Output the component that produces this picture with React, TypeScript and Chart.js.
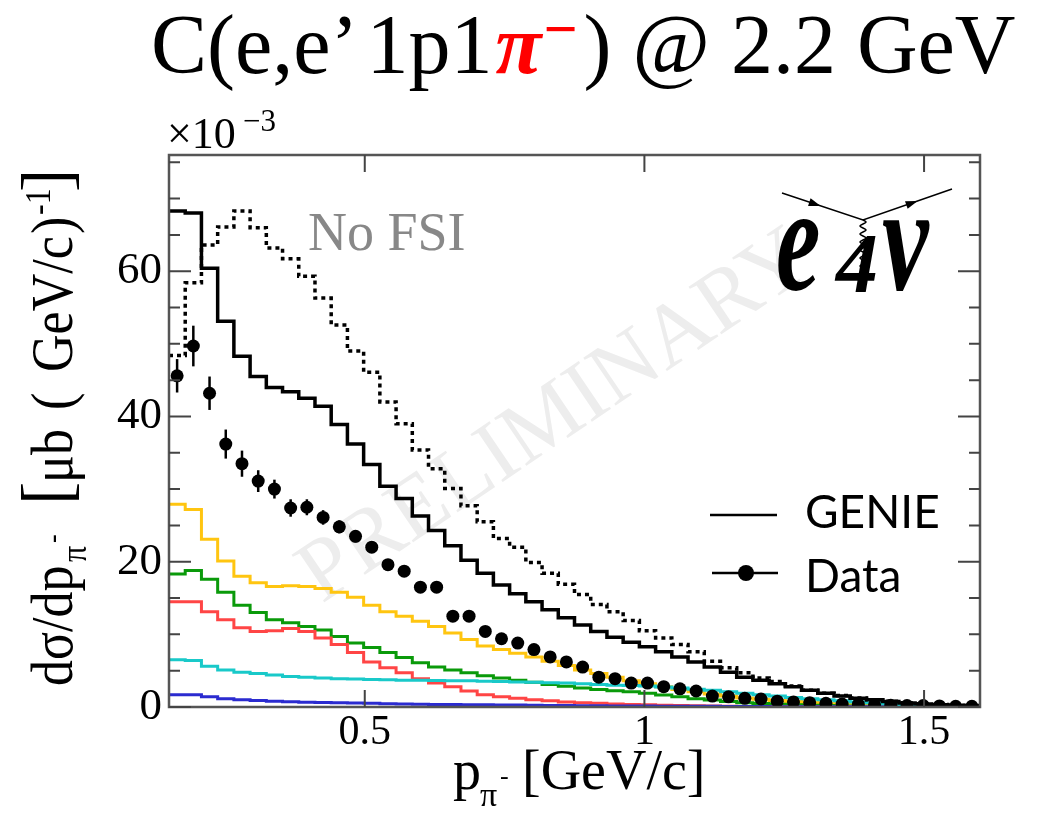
import React, { useEffect, useRef } from "react";
import { Chart, registerables } from "chart.js";
Chart.register(...registerables);

// ---- axis / categories ----
const binEdges = [
  0.150, 0.179, 0.208, 0.237, 0.266, 0.295, 0.324, 0.353, 0.382, 0.411,
  0.440, 0.469, 0.498, 0.527, 0.556, 0.585, 0.614, 0.643, 0.672, 0.701,
  0.730, 0.759, 0.788, 0.817, 0.846, 0.875, 0.904, 0.933, 0.962, 0.991,
  1.020, 1.049, 1.078, 1.107, 1.136, 1.165, 1.194, 1.223, 1.252, 1.281,
  1.310, 1.339, 1.368, 1.397, 1.426, 1.455, 1.484, 1.513, 1.542, 1.571,
  1.600,
];
const xTickValues = [0.5, 1, 1.5];
const xTickLabels = ["0.5", "1", "1.5"];
const yTickValues = [0, 5, 10, 15, 20, 25, 30, 35, 40, 45, 50, 55, 60, 65, 70, 75];
const yLabelValues = [0, 20, 40, 60];

// ---- series (units of 1e-3 ub/(GeV/c)) ----
const genieTotal = [
  68.3, 68.0, 60.4, 53.1, 48.3, 45.5, 44.0, 43.4, 42.5, 41.4,
  38.9, 36.2, 33.4, 30.4, 28.7, 26.3, 24.3, 22.2, 20.2, 18.4,
  16.8, 15.6, 14.5, 13.4, 12.3, 11.3, 10.4, 9.6, 8.9, 8.3,
  7.6, 6.9, 6.2, 5.5, 4.8, 4.1, 3.7, 3.2, 2.8, 2.3,
  1.9, 1.5, 1.2, 1.0, 0.75, 0.55, 0.42, 0.32, 0.22, 0.15,
];
const genieNoFsi = [
  48.4, 58.4, 63.6, 66.1, 68.3, 66.0, 63.2, 61.7, 59.3, 56.3,
  52.6, 49.0, 46.1, 42.0, 39.0, 35.4, 32.8, 30.1, 27.7, 25.5,
  23.2, 22.0, 19.9, 18.4, 16.9, 15.5, 14.1, 13.1, 11.9, 10.5,
  9.5, 8.6, 7.6, 6.3, 5.4, 4.7, 4.0, 3.5, 2.9, 2.3,
  1.9, 1.6, 1.25, 1.0, 0.8, 0.6, 0.45, 0.35, 0.25, 0.2,
];
const yellowComp = [
  27.9, 27.2, 23.1, 20.1, 18.0, 17.1, 16.6, 16.7, 16.6, 16.3,
  15.8, 15.1, 14.0, 13.1, 12.5, 11.8, 11.1, 10.2, 9.3, 8.4,
  7.9, 7.4, 6.9, 6.3, 5.7, 5.1, 4.6, 4.1, 3.6, 3.2,
  2.8, 2.4, 2.1, 1.8, 1.5, 1.25, 1.05, 0.9, 0.75, 0.62,
  0.5, 0.42, 0.35, 0.28, 0.22, 0.18, 0.14, 0.11, 0.08, 0.06,
];
const greenComp = [
  18.3, 18.8, 17.6, 15.8, 14.0, 13.0, 12.0, 11.6, 11.1, 10.6,
  9.7, 8.8, 8.2, 7.5, 6.8, 6.1, 5.5, 5.1, 4.7, 4.3,
  4.0, 3.7, 3.4, 3.1, 2.85, 2.6, 2.4, 2.25, 2.1, 1.9,
  1.65, 1.4, 1.15, 0.95, 0.75, 0.6, 0.48, 0.38, 0.3, 0.24,
  0.19, 0.15, 0.12, 0.09, 0.07, 0.05, 0.04, 0.03, 0.02, 0.02,
];
const redComp = [
  14.5, 14.5, 13.1, 12.0, 10.9, 10.4, 10.5, 10.8, 10.4, 9.5,
  8.6, 7.5, 6.2, 5.4, 4.7, 3.9, 3.3, 2.8, 2.2, 1.7,
  1.4, 1.2, 1.0, 0.85, 0.7, 0.6, 0.5, 0.42, 0.36, 0.3,
  0.25, 0.2, 0.16, 0.13, 0.1, 0.08, 0.07, 0.06, 0.05, 0.04,
  0.04, 0.03, 0.03, 0.02, 0.02, 0.02, 0.01, 0.01, 0.01, 0.01,
];
const cyanComp = [
  6.5, 6.4, 5.6, 5.1, 4.8, 4.6, 4.4, 4.2, 4.1, 4.0,
  3.9, 3.85, 3.8, 3.75, 3.7, 3.7, 3.65, 3.6, 3.6, 3.55,
  3.5, 3.45, 3.4, 3.35, 3.3, 3.2, 3.1, 3.0, 2.95, 2.9,
  2.75, 2.6, 2.45, 2.3, 2.1, 1.9, 1.7, 1.5, 1.3, 1.15,
  1.0, 0.85, 0.7, 0.58, 0.46, 0.36, 0.28, 0.21, 0.15, 0.1,
];
const blueComp = [
  1.7, 1.7, 1.4, 1.15, 1.0, 0.9, 0.78, 0.72, 0.66, 0.62,
  0.58, 0.54, 0.5, 0.46, 0.42, 0.39, 0.36, 0.34, 0.32, 0.3,
  0.28, 0.26, 0.24, 0.22, 0.2, 0.18, 0.16, 0.15, 0.14, 0.13,
  0.12, 0.11, 0.1, 0.09, 0.08, 0.07, 0.06, 0.05, 0.05, 0.04,
  0.04, 0.03, 0.03, 0.02, 0.02, 0.02, 0.01, 0.01, 0.01, 0.01,
];
const dataValues = [
  45.6, 49.7, 43.2, 36.2, 33.5, 31.1, 30.0, 27.4, 27.5, 26.1,
  24.8, 23.5, 22.0, 19.6, 18.7, 16.5, 16.5, 12.5, 12.5, 10.4,
  9.4, 8.8, 7.9, 6.9, 6.2, 5.5, 4.1, 3.9, 3.3, 3.3,
  2.8, 2.5, 2.2, 1.5, 1.4, 1.2, 1.1, 0.8, 0.7, 0.6,
  0.5, 0.4, 0.35, 0.3, 0.25, 0.2, 0.2, 0.15, 0.1, 0.1,
];
const dataErrors = [
  2.3, 2.8, 2.3, 2.0, 1.8, 1.5, 1.3, 1.2, 1.1, 1.0,
  0.9, 0.85, 0.8, 0.75, 0.7, 0.65, 0.6, 0.55, 0.5, 0.45,
  0.4, 0.4, 0.35, 0.35, 0.3, 0.3, 0.25, 0.25, 0.22, 0.2,
  0.2, 0.18, 0.16, 0.14, 0.13, 0.12, 0.11, 0.1, 0.09, 0.08,
  0.08, 0.07, 0.07, 0.06, 0.06, 0.05, 0.05, 0.05, 0.04, 0.04,
];

const SERIF = "'Liberation Serif', 'Times New Roman', serif";
const SANS = "Lato, 'Open Sans', sans-serif";

function stepPoints(values: number[]) {
  const pts = values.map((v, i) => ({ x: binEdges[i], y: v }));
  pts.push({ x: binEdges[values.length], y: values[values.length - 1] });
  return pts;
}
function centerPoints(values: number[]) {
  return values.map((v, i) => ({ x: (binEdges[i] + binEdges[i + 1]) / 2, y: v }));
}

function drawText(
  ctx: CanvasRenderingContext2D, s: string, x: number, y: number, font: string,
  color = "#000", align: CanvasTextAlign = "left", sx = 1, sy = 1
) {
  ctx.save();
  ctx.translate(x, y);
  ctx.scale(sx, sy);
  ctx.font = font;
  ctx.fillStyle = color;
  ctx.textAlign = align;
  ctx.textBaseline = "alphabetic";
  ctx.fillText(s, 0, 0);
  ctx.restore();
}
function textWidth(ctx: CanvasRenderingContext2D, s: string, font: string) {
  ctx.save();
  ctx.font = font;
  const w = ctx.measureText(s).width;
  ctx.restore();
  return w;
}

const decorPlugin = {
  id: "decor",
  beforeDatasetsDraw(chart: any) {
    const ctx: CanvasRenderingContext2D = chart.ctx;
    ctx.save();
    ctx.translate(556, 418);
    ctx.rotate(-34 * Math.PI / 180);
    ctx.font = `88px ${SERIF}`;
    ctx.fillStyle = "#ededed";
    ctx.textAlign = "center";
    ctx.textBaseline = "middle";
    ctx.fillText("PRELIMINARY", 0, 0);
    ctx.restore();
  },
  afterDatasetsDraw(chart: any) {
    const ctx: CanvasRenderingContext2D = chart.ctx;
    const xs = chart.scales.x, ys = chart.scales.y;
    const a = chart.chartArea;
    // error bars
    ctx.save();
    ctx.strokeStyle = "#000";
    ctx.lineWidth = 2.5;
    dataValues.forEach((v, i) => {
      const cx = xs.getPixelForValue((binEdges[i] + binEdges[i + 1]) / 2);
      const y1 = ys.getPixelForValue(v - dataErrors[i]);
      const y2 = ys.getPixelForValue(v + dataErrors[i]);
      ctx.beginPath();
      ctx.moveTo(cx, y1);
      ctx.lineTo(cx, y2);
      ctx.stroke();
    });
    ctx.restore();
    // frame + inward ticks
    ctx.save();
    ctx.strokeStyle = "#555";
    ctx.lineWidth = 2.5;
    ctx.strokeRect(a.left, a.top, a.right - a.left, a.bottom - a.top);
    ctx.lineWidth = 2;
    ctx.strokeStyle = "#444";
    yTickValues.forEach((v) => {
      const py = ys.getPixelForValue(v);
      const len = yLabelValues.includes(v) ? 22 : 11;
      ctx.beginPath();
      ctx.moveTo(a.left, py); ctx.lineTo(a.left + len, py);
      ctx.moveTo(a.right, py); ctx.lineTo(a.right - len, py);
      ctx.stroke();
    });
    xTickValues.forEach((v) => {
      const px = xs.getPixelForValue(v);
      ctx.beginPath();
      ctx.moveTo(px, a.bottom); ctx.lineTo(px, a.bottom - 17);
      ctx.moveTo(px, a.top); ctx.lineTo(px, a.top + 17);
      ctx.stroke();
    });
    ctx.restore();
  },
  afterDraw(chart: any) {
    const ctx: CanvasRenderingContext2D = chart.ctx;
    // ---- title ----
    let x = 151;
    const base = 73;
    const tf = `84px ${SERIF}`;
    drawText(ctx, "C(e,e\u2019", x, base, tf);
    x += textWidth(ctx, "C(e,e\u2019", tf) + 8;
    drawText(ctx, "1p1", x, base, tf);
    x += textWidth(ctx, "1p1", tf) + 3;
    const pf = `italic bold 84px ${SERIF}`;
    drawText(ctx, "\u03C0", x, base, pf, "#ff0000");
    x += textWidth(ctx, "\u03C0", pf) + 2;
    const mf = `bold 60px ${SERIF}`;
    drawText(ctx, "\u2212", x, base - 24, mf, "#ff0000");
    x += textWidth(ctx, "\u2212", mf) + 6;
    drawText(ctx, ") @ 2.2 GeV", x, base, tf);

    // ---- x10^-3 ----
    drawText(ctx, "\u00D710", 167, 148, `44px ${SERIF}`);
    drawText(ctx, "\u22123", 243, 131, `31px ${SERIF}`);

    // ---- y axis title (rotated) ----
    ctx.save();
    ctx.translate(72, 686);
    ctx.rotate(-Math.PI / 2);
    const yf = `52px ${SERIF}`;
    const S = 1.15;
    drawText(ctx, "d\u03C3/dp", 0, 0, yf, "#000", "left", 1, S);
    drawText(ctx, "\u03C0", 124, 14, `32px ${SERIF}`, "#000", "left", 1, S);
    drawText(ctx, "-", 143, -10, `26px ${SERIF}`, "#000", "left", 1, S);
    drawText(ctx, "[", 181, -2, `70px ${SERIF}`);
    drawText(ctx, "\u03BCb", 203, 0, yf, "#000", "left", 1, S);
    drawText(ctx, "(", 276, 0, yf, "#000", "left", 1, S);
    drawText(ctx, "GeV/c", 314, 0, yf, "#000", "left", 1, S);
    drawText(ctx, ")", 452, 0, yf, "#000", "left", 1, S);
    drawText(ctx, "-1", 471, -22, `32px ${SERIF}`, "#000", "left", 1, S);
    drawText(ctx, "]", 494, -2, `70px ${SERIF}`);
    ctx.restore();

    // ---- x axis title ----
    drawText(ctx, "p", 453, 789, `56px ${SERIF}`);
    drawText(ctx, "\u03C0", 480, 806, `34px ${SERIF}`);
    drawText(ctx, "-", 500, 784, `26px ${SERIF}`);
    drawText(ctx, "[GeV/c]", 522, 789, `56px ${SERIF}`);

    // ---- No FSI ----
    drawText(ctx, "No FSI", 308, 250, `54px ${SERIF}`, "#888");

    // ---- legend ----
    ctx.save();
    ctx.strokeStyle = "#000";
    ctx.lineWidth = 2.5;
    ctx.beginPath();
    ctx.moveTo(710, 515); ctx.lineTo(777, 515);
    ctx.moveTo(712, 573); ctx.lineTo(778, 573);
    ctx.stroke();
    ctx.beginPath();
    ctx.arc(746, 573, 8, 0, Math.PI * 2);
    ctx.fillStyle = "#000";
    ctx.fill();
    ctx.restore();
    drawText(ctx, "GENIE", 805, 528, `46px ${SANS}`);
    drawText(ctx, "Data", 805, 592, `46px ${SANS}`);

    // ---- e4nu logo ----
    ctx.save();
    ctx.strokeStyle = "#000";
    ctx.fillStyle = "#000";
    ctx.lineWidth = 1.5;
    ctx.beginPath();
    ctx.moveTo(782, 193); ctx.lineTo(863, 220); ctx.lineTo(952, 189);
    ctx.stroke();
    const arrow = (x0: number, y0: number, ang: number) => {
      ctx.save();
      ctx.translate(x0, y0);
      ctx.rotate(ang);
      ctx.beginPath();
      ctx.moveTo(6, 0); ctx.lineTo(-6, -4); ctx.lineTo(-6, 4); ctx.closePath();
      ctx.fill();
      ctx.restore();
    };
    arrow(815, 204, Math.atan2(27, 81));
    arrow(912, 203, Math.atan2(-31, 89));
    ctx.beginPath();
    for (let t = 0; t <= 48; t += 1) {
      const px = 863 + 3 * Math.sin((t / 8) * Math.PI * 2);
      const py = 220 + t;
      if (t === 0) ctx.moveTo(px, py); else ctx.lineTo(px, py);
    }
    ctx.stroke();
    ctx.restore();
    drawText(ctx, "e", 776, 290, `italic bold 100px ${SERIF}`, "#000", "left", 1.0, 1.5);
    drawText(ctx, "4", 836, 292, `italic bold 84px ${SERIF}`);
    drawText(ctx, "\u03BD", 882, 290, `italic bold 100px ${SERIF}`, "#000", "left", 1.05, 1.5);
  },
};

export default function App() {
  const ref = useRef<HTMLCanvasElement | null>(null);
  useEffect(() => {
    if (!ref.current) return;
    const hist = (label: string, values: number[], color: string, width: number, dash?: number[]) => ({
      label,
      data: stepPoints(values),
      borderColor: color,
      backgroundColor: color,
      borderWidth: width,
      borderDash: dash || [],
      stepped: true,
      pointRadius: 0,
      fill: false,
      borderJoinStyle: "miter" as const,
      borderCapStyle: "butt" as const,
    });
    const chart = new Chart(ref.current, {
      type: "line",
      data: {
        datasets: [
          {
            label: "Data",
            data: centerPoints(dataValues),
            showLine: false,
            pointRadius: 6.5,
            pointBackgroundColor: "#000",
            pointBorderColor: "#000",
            pointBorderWidth: 0,
            borderColor: "#000",
          } as any,
          hist("GENIE", genieTotal, "#000", 3.5),
          hist("No FSI", genieNoFsi, "#000", 3.5, [4, 4]),
          hist("cyan", cyanComp, "#19c9c9", 3),
          hist("blue", blueComp, "#2b2bd0", 3),
          hist("red", redComp, "#ff4545", 3),
          hist("green", greenComp, "#0a9a0a", 3),
          hist("yellow", yellowComp, "#ffc510", 3),
        ],
      },
      options: {
        responsive: false,
        animation: false,
        devicePixelRatio: 1,
        layout: { padding: { left: 0, top: 155, right: 65, bottom: 0 } },
        plugins: {
          legend: { display: false },
          tooltip: { enabled: false },
          title: { display: false },
        },
        scales: {
          x: {
            type: "linear",
            min: 0.15,
            max: 1.6,
            afterBuildTicks: (s: any) => {
              s.ticks = xTickValues.map((v) => ({ value: v }));
            },
            afterFit: (s: any) => {
              s.height = 106;
            },
            ticks: {
              autoSkip: false,
              maxRotation: 0,
              padding: 1,
              color: "#000",
              font: { family: SERIF, size: 42 },
              callback: (v: any) => {
                const i = xTickValues.indexOf(Number(v));
                return i >= 0 ? xTickLabels[i] : "";
              },
            },
            grid: { display: false, drawTicks: false },
            border: { display: false },
          },
          y: {
            type: "linear",
            min: 0,
            max: 76,
            afterBuildTicks: (s: any) => {
              s.ticks = yTickValues.map((v) => ({ value: v }));
            },
            afterFit: (s: any) => {
              s.width = 169;
            },
            ticks: {
              autoSkip: false,
              padding: 7,
              color: "#000",
              font: { family: SERIF, size: 45 },
              callback: (v: any) => (yLabelValues.includes(Number(v)) ? String(v) : ""),
            },
            grid: { display: false, drawTicks: false },
            border: { display: false },
          },
        },
      },
      plugins: [decorPlugin],
    });
    return () => chart.destroy();
  }, []);
  return (
    <div style={{ position: "fixed", left: 0, top: 0, width: 1045, height: 813, background: "#fff", overflow: "hidden" }}>
      <canvas ref={ref} width={1045} height={813} style={{ display: "block" }} />
    </div>
  );
}
